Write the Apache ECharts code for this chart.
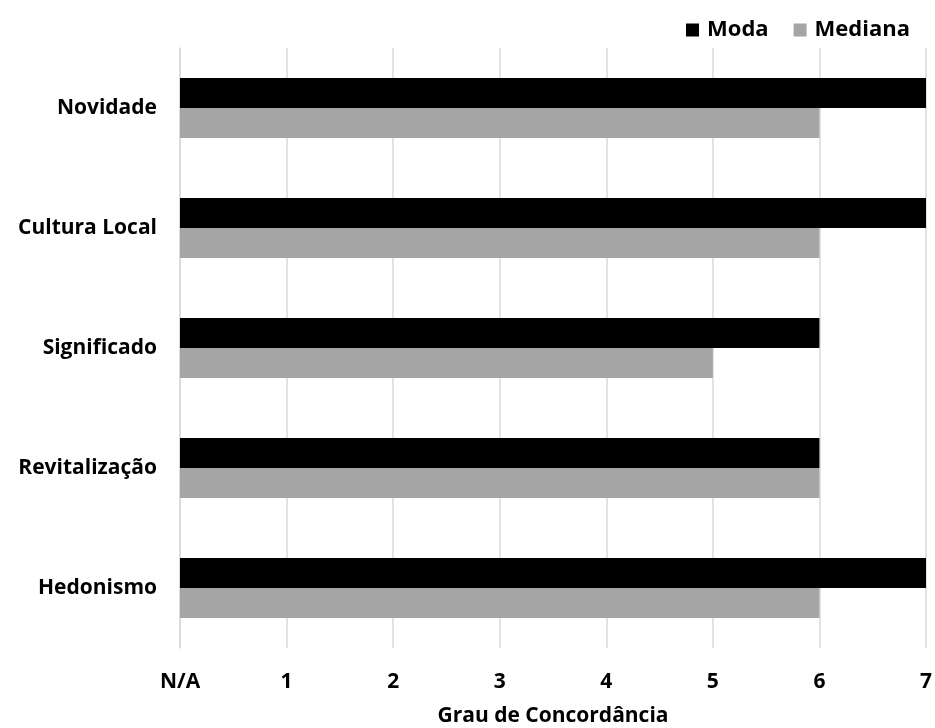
<!DOCTYPE html>
<html><head><meta charset="utf-8">
<script src="https://cdn.jsdelivr.net/npm/echarts@6/dist/echarts.min.js"></script>
<style>html,body{margin:0;padding:0;background:#fff}#c{width:935px;height:728px}</style>
</head><body><div id="c"></div>
<script>
const categories = ['Novidade', 'Cultura Local', 'Significado', 'Revitalização', 'Hedonismo'];
const moda = [7, 7, 6, 6, 7];
const mediana = [6, 6, 5, 6, 6];
const tickLabels = ['N/A', '1', '2', '3', '4', '5', '6', '7'];
const seriesNames = ['Moda', 'Mediana'];
const axisName = 'Grau de Concordância';

const font = '"Open Sans", "Noto Sans", sans-serif';
const txt = { fontFamily: font, fontWeight: 'bold', fontSize: 21, color: '#000' };
const chart = echarts.init(document.getElementById('c'));
chart.setOption({
  animation: false,
  legend: {
    right: 20, top: 14, itemWidth: 13, itemHeight: 13, itemGap: 25,
    icon: 'rect',
    textStyle: Object.assign({}, txt, { fontSize: 22, padding: [0, 0, 0, 3] }),
    data: seriesNames
  },
  grid: { left: 180, right: 9, top: 48, bottom: 80, containLabel: false, outerBoundsMode: 'none' },
  xAxis: {
    type: 'value', min: 0, max: 7, interval: 1,
    name: axisName, nameLocation: 'middle', nameGap: 58,
    nameTextStyle: txt,
    axisLine: { show: false }, axisTick: { show: false },
    axisLabel: Object.assign({ margin: 24, formatter: v => tickLabels[Math.round(v)] }, txt),
    splitLine: { show: true, lineStyle: { color: '#d9d9d9', width: 1.5 } }
  },
  yAxis: {
    type: 'category', data: categories, inverse: true,
    axisLine: { show: true, lineStyle: { color: '#d9d9d9', width: 1.5 } },
    axisTick: { show: false },
    axisLabel: Object.assign({ margin: 23 }, txt)
  },
  series: [
    { name: seriesNames[0], type: 'bar', data: moda, barWidth: 30, barGap: '0%',
      itemStyle: { color: '#000000' } },
    { name: seriesNames[1], type: 'bar', data: mediana, barWidth: 30, barGap: '0%',
      itemStyle: { color: '#a5a5a5' } }
  ]
});
</script></body></html>
